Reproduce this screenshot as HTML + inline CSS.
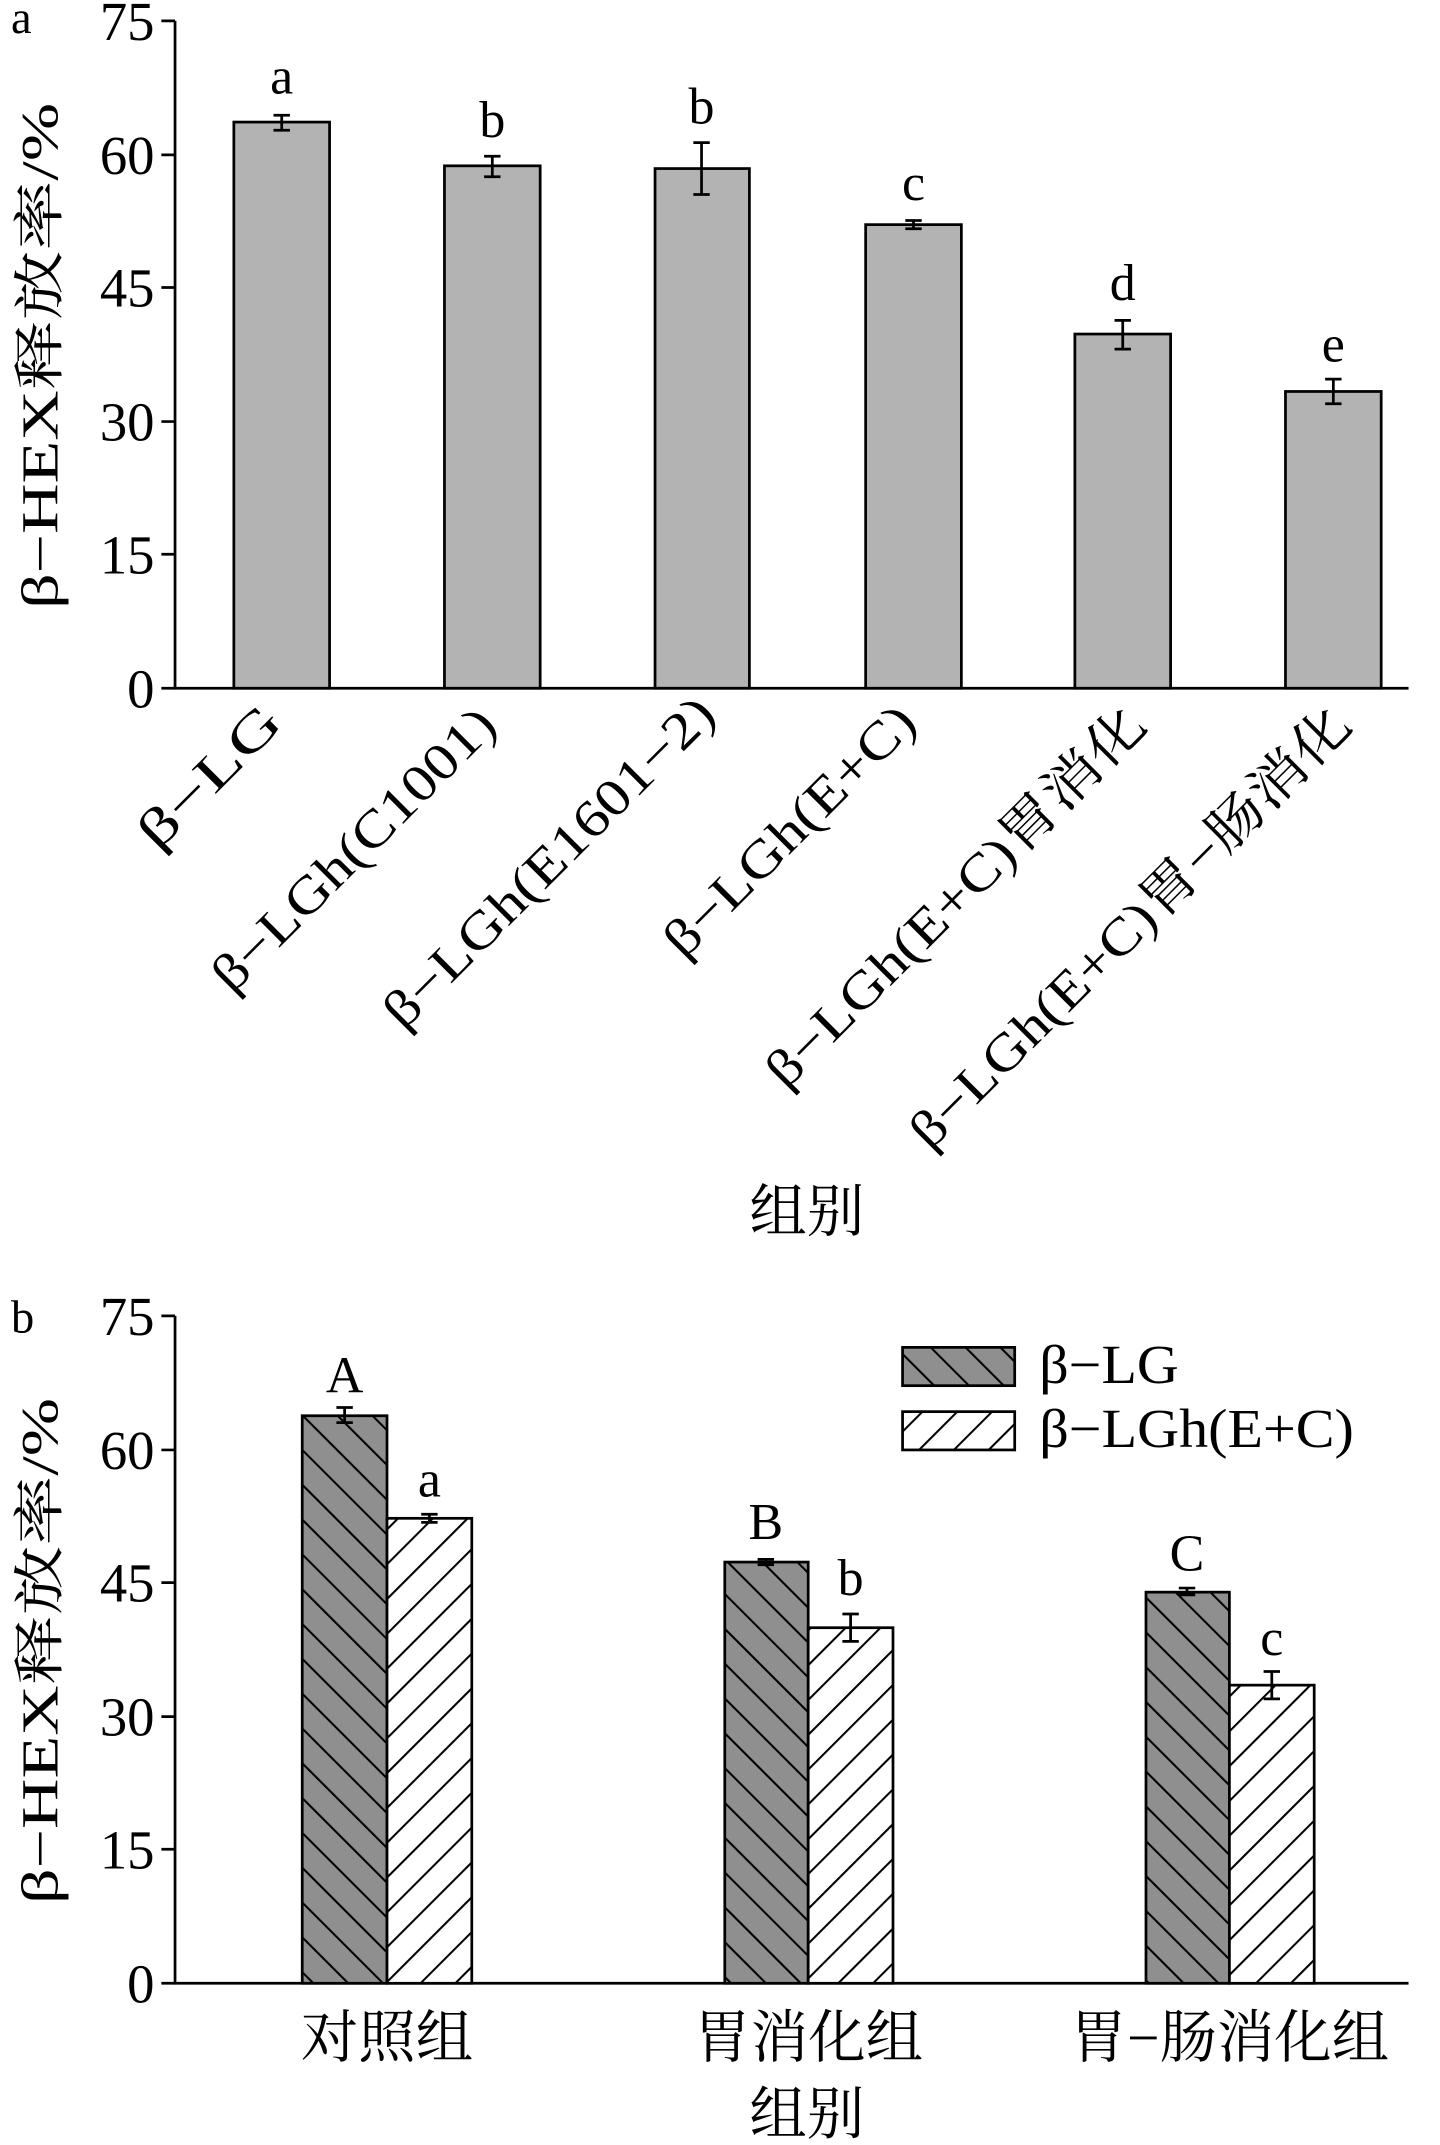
<!DOCTYPE html>
<html><head><meta charset="utf-8"><style>
html,body{margin:0;padding:0;background:#fff}
svg{display:block}
text{font-family:"Liberation Serif","Noto Serif CJK SC",serif;fill:#000}
</style></head><body>
<svg width="1440" height="2145" viewBox="0 0 1053 1568" xmlns="http://www.w3.org/2000/svg">
<defs>
<pattern id="pd" patternUnits="userSpaceOnUse" width="18" height="18" patternTransform="rotate(-45)">
<rect width="18" height="18" fill="#8f8f8f"/><line x1="0" y1="0" x2="0" y2="18" stroke="#000" stroke-width="3"/></pattern>
<pattern id="pl" patternUnits="userSpaceOnUse" width="18" height="18" patternTransform="rotate(45)">
<rect width="18" height="18" fill="#fff"/><line x1="0" y1="0" x2="0" y2="18" stroke="#000" stroke-width="3"/></pattern>
</defs>
<g stroke="#000" stroke-width="2" fill="none">
<path d="M128 15 V503 H1030"/>
<path d="M118 15H128M118 113H128M118 210H128M118 308H128M118 405H128M118 503H128"/>
<path d="M128 962 V1450 H1030"/>
<path d="M118 962H128M118 1060H128M118 1157H128M118 1255H128M118 1352H128M118 1450H128"/>
</g>
<g font-size="40" text-anchor="end">
<text x="113" y="29">75</text><text x="113" y="127">60</text><text x="113" y="224">45</text><text x="113" y="322">30</text><text x="113" y="419">15</text><text x="113" y="517">0</text>
<text x="113" y="976">75</text><text x="113" y="1074">60</text><text x="113" y="1171">45</text><text x="113" y="1269">30</text><text x="113" y="1366">15</text><text x="113" y="1464">0</text>
</g>
<g fill="#b3b3b3" stroke="#000" stroke-width="2">
<rect x="171" y="89" width="70" height="414"/>
<rect x="325" y="121" width="70" height="382"/>
<rect x="479" y="123" width="69" height="380"/>
<rect x="633" y="164" width="70" height="339"/>
<rect x="786" y="244" width="70" height="259"/>
<rect x="940" y="286" width="70" height="217"/>
</g>
<g stroke="#000" stroke-width="2">
<path d="M206 84V95M200 84H212M200 95H212"/>
<path d="M360 114V129M354 114H366M354 129H366"/>
<path d="M513 104V142M507 104H519M507 142H519"/>
<path d="M668 161V167M662 161H674M662 167H674"/>
<path d="M821 234V255M815 234H827M815 255H827"/>
<path d="M975 277V295M969 277H981M969 295H981"/>
</g>
<g font-size="38" text-anchor="middle">
<text x="206" y="68">a</text><text x="360" y="100">b</text><text x="513" y="90">b</text>
<text x="668" y="146">c</text><text x="821" y="219">d</text><text x="975" y="264">e</text>
</g>
<g font-size="38" text-anchor="end">
<text transform="translate(208,530) rotate(-45)" textLength="131" lengthAdjust="spacingAndGlyphs">β−LG</text>
<text transform="translate(365,532) rotate(-45)" textLength="276" lengthAdjust="spacingAndGlyphs">β−LGh(C1001)</text>
<text transform="translate(525,524) rotate(-45)" textLength="325" lengthAdjust="spacingAndGlyphs">β−LGh(E1601−2)</text>
<text transform="translate(672,530) rotate(-45)" textLength="243" lengthAdjust="spacingAndGlyphs">β−LGh(E+C)</text>
<text transform="translate(840,532) rotate(-45)" textLength="375" lengthAdjust="spacingAndGlyphs">β−LGh(E+C)胃消化</text>
<text transform="translate(990,532) rotate(-45)" textLength="438" lengthAdjust="spacingAndGlyphs">β−LGh(E+C)胃−肠消化</text>
</g>
<text x="590" y="900" font-size="42" text-anchor="middle">组别</text>
<text x="8" y="24" font-size="34">a</text>
<text transform="translate(42,260) rotate(-90)" font-size="38" text-anchor="middle" textLength="370" lengthAdjust="spacingAndGlyphs">β−HEX释放率/%</text>
<g stroke="#000" stroke-width="2">
<rect x="221" y="1035" width="62" height="415" fill="url(#pd)"/>
<rect x="283" y="1110" width="62" height="340" fill="url(#pl)"/>
<rect x="530" y="1142" width="61" height="308" fill="url(#pd)"/>
<rect x="591" y="1190" width="62" height="260" fill="url(#pl)"/>
<rect x="838" y="1164" width="61" height="286" fill="url(#pd)"/>
<rect x="899" y="1232" width="62" height="218" fill="url(#pl)"/>
<rect x="660" y="985" width="82" height="28" fill="url(#pd)"/>
<rect x="660" y="1032" width="82" height="28" fill="url(#pl)"/>
</g>
<g stroke="#000" stroke-width="2">
<path d="M252 1029V1040M246 1029H258M246 1040H258"/>
<path d="M314 1107V1113M308 1107H320M308 1113H320"/>
<path d="M560 1140V1144M554 1140H566M554 1144H566"/>
<path d="M622 1180V1200M616 1180H628M616 1200H628"/>
<path d="M868 1161V1166M862 1161H874M862 1166H874"/>
<path d="M930 1222V1242M924 1222H936M924 1242H936"/>
</g>
<g font-size="38" text-anchor="middle">
<text x="252" y="1018">A</text><text x="314" y="1094">a</text><text x="560" y="1125">B</text>
<text x="622" y="1166">b</text><text x="868" y="1148">C</text><text x="930" y="1210">c</text>
</g>
<text x="760" y="1011" font-size="40" textLength="102" lengthAdjust="spacingAndGlyphs">β−LG</text>
<text x="760" y="1058" font-size="40" textLength="230" lengthAdjust="spacingAndGlyphs">β−LGh(E+C)</text>
<g font-size="42" text-anchor="middle">
<text x="283" y="1504">对照组</text><text x="591" y="1504">胃消化组</text><text x="899" y="1504">胃−肠消化组</text>
<text x="590" y="1560">组别</text>
</g>
<text x="8" y="974" font-size="34">b</text>
<text transform="translate(42,1207) rotate(-90)" font-size="38" text-anchor="middle" textLength="370" lengthAdjust="spacingAndGlyphs">β−HEX释放率/%</text>
</svg>
</body></html>
